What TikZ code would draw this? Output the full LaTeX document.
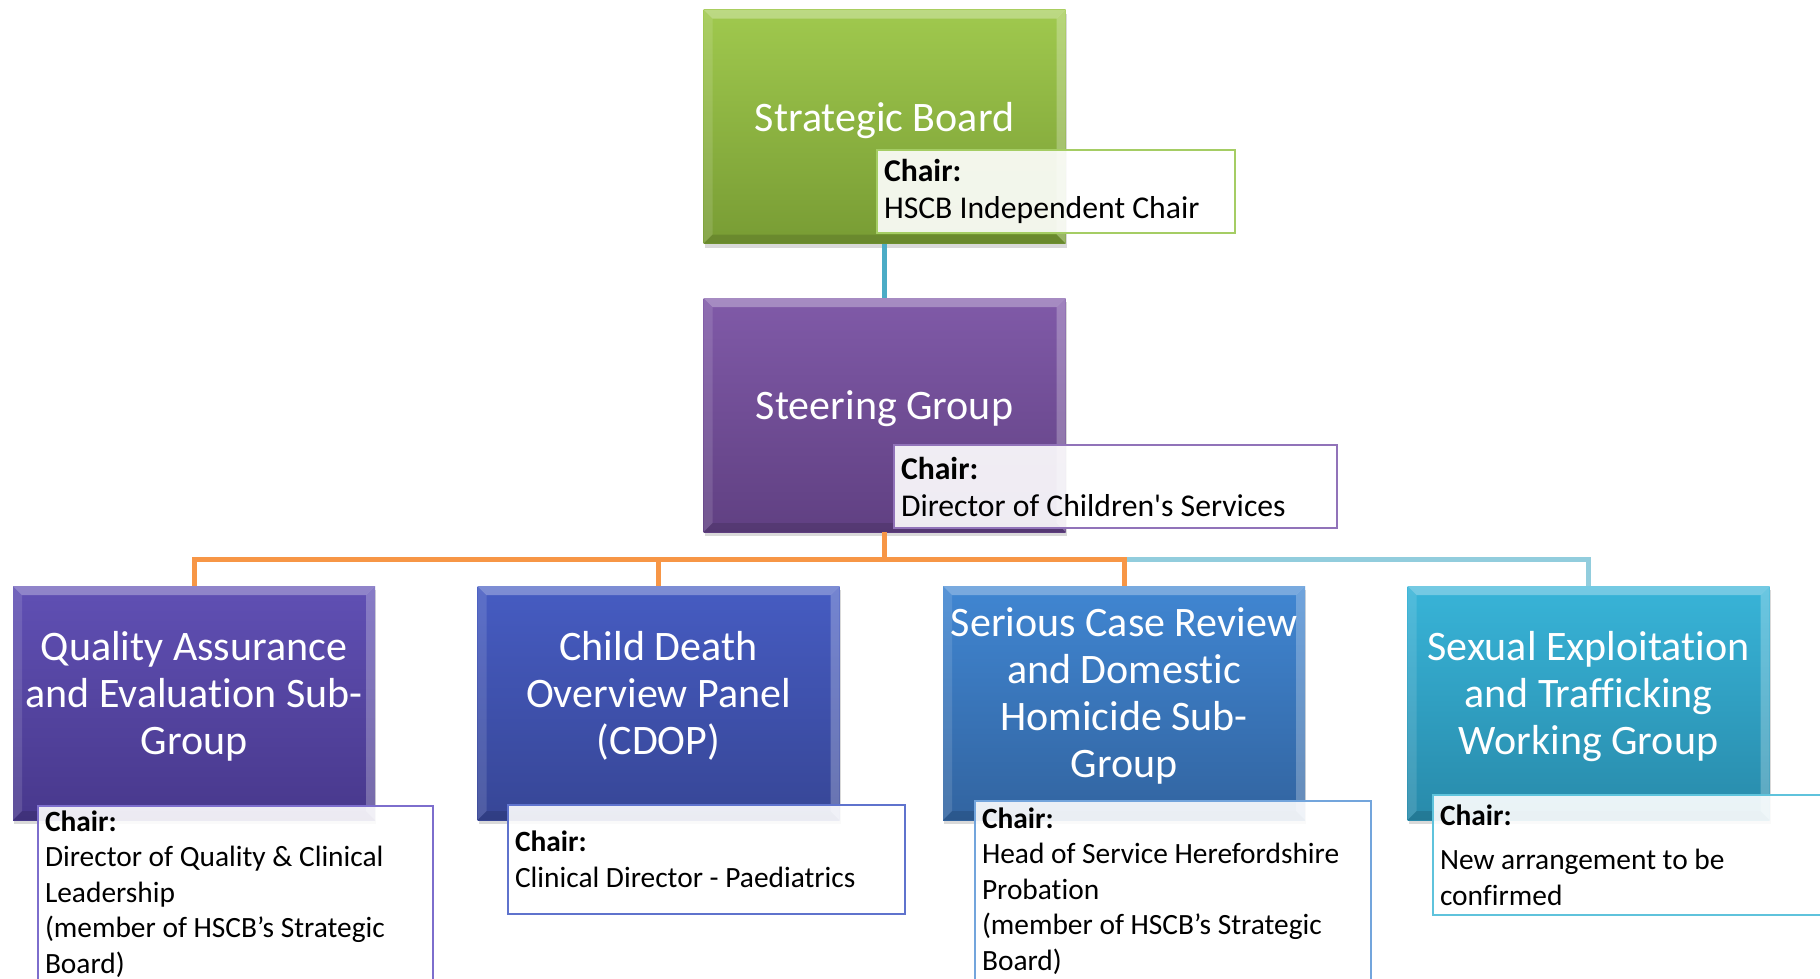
\documentclass[tikz,border=0pt]{standalone}
\usepackage{fontspec}
\setmainfont{Carlito}[Ligatures={TeX,NoCommon}]
\usetikzlibrary{shadows}

\definecolor{sbtop}{RGB}{160,201,78}
\definecolor{sbbot}{RGB}{120,156,52}
\definecolor{sgtop}{RGB}{128,90,168}
\definecolor{sgbot}{RGB}{96,64,130}
\definecolor{qatop}{RGB}{96,80,180}
\definecolor{qabot}{RGB}{72,56,140}
\definecolor{cdoptop}{RGB}{70,92,194}
\definecolor{cdopbot}{RGB}{55,70,150}
\definecolor{scrtop}{RGB}{64,134,210}
\definecolor{scrbot}{RGB}{50,100,160}
\definecolor{settop}{RGB}{56,180,216}
\definecolor{setbot}{RGB}{40,138,170}
\definecolor{sbedge}{RGB}{165,205,100}
\definecolor{sgedge}{RGB}{145,115,185}
\definecolor{qaedge}{RGB}{125,110,205}
\definecolor{cdopedge}{RGB}{95,115,205}
\definecolor{scredge}{RGB}{115,165,220}
\definecolor{setedge}{RGB}{95,195,220}
\definecolor{toplink}{RGB}{75,172,198}
\definecolor{buslink}{RGB}{247,150,70}
\definecolor{sidelink}{RGB}{146,205,221}

\tikzset{
  unit/.style={rectangle, minimum width=362pt, minimum height=234pt, inner sep=4pt,
    align=center, text=white, font=\fontsize{42}{47}\selectfont,
    execute at end node={\rule[-20pt]{0pt}{0pt}},
    drop shadow={shadow xshift=1pt, shadow yshift=-4pt, opacity=0.3},
    path picture={
      \coordinate (nw) at (path picture bounding box.north west);
      \coordinate (ne) at (path picture bounding box.north east);
      \coordinate (sw) at (path picture bounding box.south west);
      \coordinate (se) at (path picture bounding box.south east);
      \fill[white,opacity=.3] (nw) -- (ne) -- ([shift={(-9pt,-9pt)}]ne) -- ([shift={(9pt,-9pt)}]nw) -- cycle;
      \fill[white,opacity=.12] (nw) -- ([shift={(9pt,-9pt)}]nw) -- ([shift={(9pt,9pt)}]sw) -- (sw) -- cycle;
      \fill[white,opacity=.25] (ne) -- ([shift={(-9pt,-9pt)}]ne) -- ([shift={(-9pt,9pt)}]se) -- (se) -- cycle;
      \fill[black,opacity=.12] (sw) -- ([shift={(9pt,9pt)}]sw) -- ([shift={(-9pt,9pt)}]se) -- (se) -- cycle;
    }},
  chair/.style={rectangle, anchor=north west, fill=white, fill opacity=0.9, text opacity=1,
    line width=2pt, inner xsep=7pt, inner ysep=3pt, align=flush left,
    font=\fontsize{29.4}{35.6}\selectfont},
  link/.style={line width=5pt}
}

\begin{document}
\begin{tikzpicture}[x=1pt,y=-1pt]
\useasboundingbox (0,0) rectangle (1820,978);

% boxes
\node[unit, top color=sbtop, bottom color=sbbot] (sb) at (884.5,126.5) {Strategic Board};
\node[unit, top color=sgtop, bottom color=sgbot] (sg) at (884.5,415) {Steering Group};
\node[unit, top color=qatop, bottom color=qabot] (qa) at (194,703) {Quality Assurance\\and Evaluation Sub-\\Group};
\node[unit, top color=cdoptop, bottom color=cdopbot] (cdop) at (658.5,703) {Child Death\\Overview Panel\\(CDOP)};
\node[unit, top color=scrtop, bottom color=scrbot] (scr) at (1124,703) {Serious Case Review\\and Domestic\\Homicide Sub-\\Group};
\node[unit, top color=settop, bottom color=setbot] (set) at (1588.5,703) {Sexual Exploitation\\and Trafficking\\Working Group};

% links
\coordinate (bus) at (884.5,559);
\draw[link, toplink] (sb.south) -- (sg.north);
\draw[link, sidelink] (scr.north |- bus) -| (set.north);
\draw[link, buslink] (sg.south) -- (bus);
\draw[link, buslink] (bus) -| (qa.north);
\draw[link, buslink] (bus) -| (cdop.north);
\draw[link, buslink] (bus) -| (scr.north);

% chairs
\node[chair, draw=sbedge, text width=344pt, minimum height=83pt, font=\fontsize{31.7}{37}\selectfont] (sbchair) at (876,149) {\textbf{Chair:}\\HSCB Independent Chair};
\node[chair, draw=sgedge, text width=429pt, minimum height=83pt, font=\fontsize{31.7}{37}\selectfont] (sgchair) at (893,444) {\textbf{Chair:}\\Director of Children\textquotesingle s Services};
\node[chair, draw=qaedge, text width=381pt, minimum height=176pt] (qachair) at (37,805) {\textbf{Chair:}\\Director of Quality \& Clinical\\Leadership\\(member of HSCB’s Strategic\\Board)};
\node[chair, draw=cdopedge, text width=383pt, minimum height=109pt] (cdopchair) at (507,804) {\textbf{Chair:}\\Clinical Director - Paediatrics};
\node[chair, draw=scredge, text width=382pt, minimum height=180pt] (scrchair) at (974,800) {\textbf{Chair:}\\Head of Service Herefordshire\\Probation\\(member of HSCB’s Strategic\\Board)};
\node[chair, draw=setedge, text width=406pt, minimum height=120pt] (setchair) at (1432,794) {\textbf{Chair:}\\[9pt]New arrangement to be\\confirmed};
\end{tikzpicture}
\end{document}
